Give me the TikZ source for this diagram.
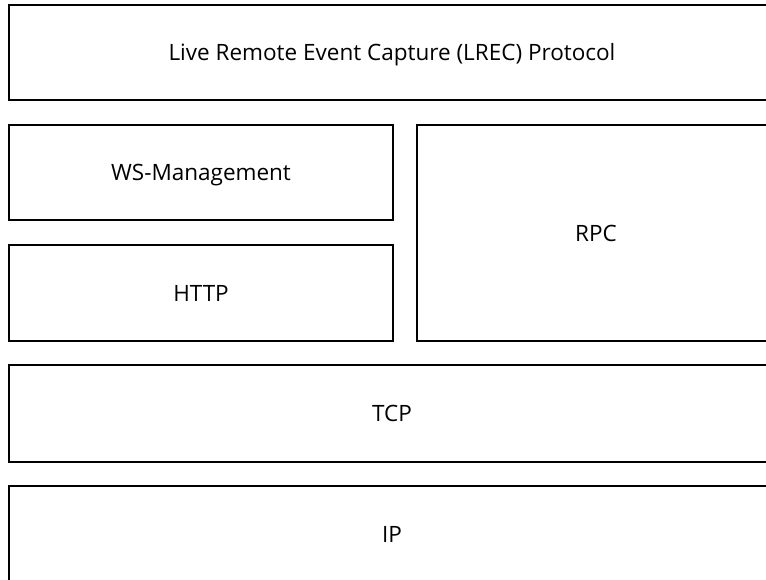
\documentclass[tikz,border=0pt]{standalone}
\usepackage{fontspec}
\setmainfont{Open Sans}
\usepackage{tikz}

\tikzset{
	layer/.style={draw, line width=1.6pt, rectangle, inner sep=0pt, text height=16pt, text depth=0pt, font=\fontsize{22.5}{26}\selectfont}
}

\begin{document}
\begin{tikzpicture}[x=1pt, y=-1pt]
		\useasboundingbox (0,0) rectangle (766,579);
		\clip (0,0) rectangle (766,579);
		
		\draw (392,52.5) node[layer, minimum width=766pt, minimum height=95pt] (lrec) {Live Remote Event Capture (LREC) Protocol};
		
		\draw (201,172.5) node[layer, minimum width=384pt, minimum height=95pt] (wsman) {WS-Management};
		\draw (201,293) node[layer, minimum width=384pt, minimum height=96pt] (http) {HTTP};
		\draw (596,233) node[layer, minimum width=358pt, minimum height=216pt] (rpc) {RPC};
		
		\draw (392,413.5) node[layer, minimum width=766pt, minimum height=97pt] (tcp) {TCP};
		\draw (392,534) node[layer, minimum width=766pt, minimum height=96pt] (ip) {IP};
	\end{tikzpicture}
\end{document}
